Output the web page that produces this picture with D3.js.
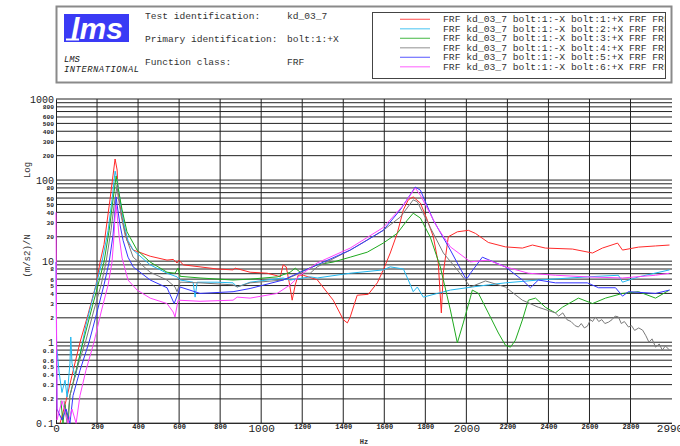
<!DOCTYPE html>
<html lang="en">
<head>
<meta charset="utf-8">
<title>FRF kd_03_7</title>
<script src="https://d3js.org/d3.v7.min.js"></script>
<style>
  body { margin: 0; background: #fff; }
  svg { display: block; }
  .mono { font-family: "Liberation Mono", "DejaVu Sans Mono", monospace; }
</style>
</head>
<body>
<div id="chart"></div>
<script>
// header texts
const headerRows = [
  ["Test identification:", "kd_03_7"],
  ["Primary identification:", "bolt:1:+X"],
  ["Function class:", "FRF"]
];
const legendNames = [
  "FRF kd_03_7 bolt:1:-X bolt:1:+X FRF FRF",
  "FRF kd_03_7 bolt:1:-X bolt:2:+X FRF FRF",
  "FRF kd_03_7 bolt:1:-X bolt:3:+X FRF FRF",
  "FRF kd_03_7 bolt:1:-X bolt:4:+X FRF FRF",
  "FRF kd_03_7 bolt:1:-X bolt:5:+X FRF FRF",
  "FRF kd_03_7 bolt:1:-X bolt:6:+X FRF FRF"
];
const seriesColors = ["#ff2a2a", "#22b8f0", "#1faa1f", "#7a7a7a", "#3535ff", "#ff40ff"];

// ticks
const xTicks = [0, 200, 400, 600, 800, 1000, 1200, 1400, 1600, 1800, 2000, 2200, 2400, 2600, 2800, 2990];
const xTickLabels = ["0", "200", "400", "600", "800", "1000", "1200", "1400", "1600", "1800", "2000", "2200", "2400", "2600", "2800", "2990"];
const xMajor = [0, 1000, 2000, 2990];
const yGrid = [0.1, 0.2, 0.3, 0.4, 0.5, 0.6, 0.7, 0.8, 0.9,
  1, 2, 3, 4, 5, 6, 7, 8, 9,
  10, 20, 30, 40, 50, 60, 70, 80, 90,
  100, 200, 300, 400, 500, 600, 700, 800, 900, 1000];
const yTicks = [0.1, 0.2, 0.3, 0.4, 0.5, 0.6, 0.8, 1, 2, 3, 4, 5, 6, 8,
  10, 20, 30, 40, 50, 60, 80, 100, 200, 300, 400, 500, 600, 800, 1000];
const yTickLabels = ["0.1", "0.2", "0.3", "0.4", "0.5", "0.6", "0.8", "1", "2", "3", "4", "5", "6", "8",
  "10", "20", "30", "40", "50", "60", "80", "100", "200", "300", "400", "500", "600", "800", "1000"];
const yMajor = [0.1, 1, 10, 100, 1000];

// FRF magnitudes [Hz, (m/s2)/N]
const frf1 = [[20,0.1],[49,0.19],[78,0.39],[117,1.0],[156,2.2],[195,5.1],[215,9.8],[234,16],[263,57],[278,115],[288,182],[298,133],[302,75],[312,49],[327,29.5],[346,18],[376,13.7],[410,12.8],[459,11.5],[541,10.3],[571,10.5],[590,9.5],[600,10.3],[620,9.0],[702,8.5],[785,8.0],[863,7.8],[873,8.2],[946,7.3],[1029,7.1],[1078,6.6],[1093,6.4],[1107,9.0],[1122,8.5],[1137,5.4],[1151,3.3],[1166,5.1],[1180,6.7],[1205,6.7],[1273,5.9],[1351,3.3],[1400,1.9],[1420,1.73],[1434,2.05],[1468,3.8],[1522,3.9],[1566,5.4],[1595,7.8],[1629,12.6],[1663,22],[1693,43],[1717,57],[1741,62],[1776,52],[1810,32],[1839,20],[1863,9.5],[1878,2.3],[1888,7.3],[1912,20],[1956,23],[2010,24],[2044,22],[2107,17],[2190,15],[2273,14.5],[2322,15.8],[2385,14.5],[2517,14.1],[2615,12.6],[2663,14.5],[2737,16.7],[2761,13.7],[2839,14.9],[2922,15.4],[2990,15.8]];
const frf2 = [[5,0.8],[15,0.43],[29,0.24],[44,0.34],[54,0.21],[68,0.55],[72,1.16],[78,0.55],[93,0.37],[117,0.7],[146,1.63],[185,4.0],[224,9.75],[254,24],[273,57],[288,129],[298,100],[312,57],[332,28],[351,18],[376,13.7],[459,9.0],[541,7.1],[590,6.4],[605,5.85],[668,5.5],[678,3.6],[688,5.5],[785,5.5],[863,5.4],[883,4.8],[946,5.5],[1107,6.2],[1141,5.85],[1239,6.4],[1273,6.2],[1434,7.1],[1595,7.8],[1629,8.5],[1693,8.0],[1717,5.85],[1741,4.2],[1761,4.8],[1790,3.6],[1859,4.0],[1922,4.4],[2029,4.8],[2107,5.1],[2190,5.4],[2351,5.85],[2590,6.4],[2741,6.7],[2761,5.5],[2839,6.4],[2990,7.8]];
const frf3 = [[24,0.19],[34,0.1],[44,0.17],[59,0.1],[68,0.22],[98,0.45],[132,1.0],[166,2.16],[205,5.1],[234,9.75],[259,24],[278,57],[293,112],[302,82],[322,43],[346,23],[395,13.7],[459,9.75],[541,7.3],[580,7.1],[595,8.2],[605,6.5],[702,6.2],[863,5.85],[946,6.0],[1078,6.4],[1141,7.3],[1166,8.2],[1190,7.3],[1273,9.0],[1351,9.75],[1434,11.2],[1517,12.9],[1595,16.7],[1663,22],[1712,32],[1741,39],[1776,34],[1824,19.8],[1873,8.5],[1922,2.5],[1956,0.98],[1985,1.73],[2020,3.6],[2029,4.4],[2059,4.0],[2107,2.3],[2156,1.3],[2190,0.92],[2215,0.87],[2239,1.06],[2273,1.88],[2302,3.3],[2337,3.5],[2385,2.7],[2434,2.3],[2468,2.7],[2546,3.5],[2615,3.0],[2678,3.5],[2761,4.0],[2839,4.2],[2922,3.5],[2990,4.4]];
const frf4 = [[39,0.19],[54,0.1],[68,0.22],[107,0.52],[146,1.06],[185,2.5],[220,5.1],[244,9.75],[268,24],[283,49],[298,87],[302,65],[317,37],[337,21],[376,11.2],[459,7.3],[541,5.85],[580,4.8],[590,4.2],[605,5.5],[702,5.4],[863,5.1],[883,4.8],[946,5.4],[1107,5.85],[1190,7.1],[1239,7.1],[1273,8.5],[1434,13.7],[1595,24],[1678,35],[1741,57],[1761,54],[1824,26],[1888,12.6],[1956,7.8],[2020,4.8],[2093,5.7],[2190,4.8],[2273,3.3],[2351,2.7],[2434,2.3],[2450,2.1],[2470,2.3],[2490,1.9],[2510,1.8],[2530,1.6],[2546,1.54],[2560,1.7],[2575,1.5],[2590,1.58],[2605,1.9],[2615,1.8],[2629,2.05],[2645,1.8],[2660,1.9],[2675,1.7],[2693,1.77],[2710,1.9],[2725,2.1],[2741,2.05],[2755,1.7],[2770,1.8],[2790,1.54],[2805,1.6],[2820,1.4],[2840,1.5],[2859,1.41],[2875,1.2],[2890,1.0],[2905,1.1],[2922,0.87],[2940,0.95],[2955,0.8],[2970,0.9],[2990,0.8]];
const frf5 = [[0,9.75],[5,0.15],[29,0.11],[49,0.15],[68,0.1],[83,0.22],[117,0.45],[161,1.0],[200,2.36],[234,5.1],[259,9.75],[278,21],[288,43],[293,62],[298,49],[312,28],[327,18],[351,11.2],[376,8.5],[459,5.85],[541,4.7],[576,3.0],[595,4.0],[605,4.8],[702,4.0],[863,4.2],[946,4.6],[1107,5.85],[1190,7.3],[1273,9.0],[1434,13.7],[1498,17],[1595,24],[1678,43],[1751,82],[1776,75],[1839,32],[1922,13.7],[1995,6.2],[2005,6.2],[2020,7.1],[2078,11.2],[2190,8.5],[2273,5.85],[2312,4.7],[2351,5.85],[2434,5.4],[2590,5.4],[2644,4.7],[2727,4.7],[2761,3.7],[2790,4.2],[2922,4.0],[2990,4.4]];
const frf6 = [[0,40],[5,0.11],[29,0.19],[59,0.1],[78,0.15],[98,0.1],[117,0.22],[146,0.45],[185,1.0],[220,2.36],[254,5.1],[273,9.75],[283,21],[288,37],[293,49],[298,37],[307,21],[322,10.9],[351,5.85],[395,4.4],[459,3.5],[541,3.0],[571,2.36],[580,2.05],[595,3.3],[702,3.2],[863,3.3],[883,3.6],[946,3.5],[1078,4.0],[1141,5.1],[1190,6.7],[1273,9.5],[1434,14.5],[1595,26],[1693,49],[1751,80],[1776,65],[1859,26],[1922,15],[2020,9.8],[2107,10.3],[2190,8.5],[2302,7.1],[2434,6.7],[2590,6.4],[2761,6.2],[2922,6.7],[2990,7.1]];
const series = [frf1, frf2, frf3, frf4, frf5, frf6];

const width = 680, height = 446;
const svg = d3.select("#chart").append("svg")
  .attr("width", width).attr("height", height);

// ---- header block ----
svg.append("rect")
  .attr("x", 56.5).attr("y", 6.5).attr("width", 615).attr("height", 76)
  .attr("fill", "none").attr("stroke", "#8a8a8a").attr("stroke-width", 2);

// logo
svg.append("rect")
  .attr("x", 64).attr("y", 14).attr("width", 65).attr("height", 28)
  .attr("fill", "#3a3af5");
svg.append("text")
  .attr("x", 71).attr("y", 39)
  .attr("fill", "#fff")
  .attr("font-family", "Liberation Sans, Arial, sans-serif")
  .attr("font-style", "italic").attr("font-weight", "bold")
  .attr("font-size", 30)
  .attr("textLength", 52)
  .text("lms");
svg.append("line")
  .attr("x1", 66).attr("x2", 79).attr("y1", 39.5).attr("y2", 39.5)
  .attr("stroke", "#fff").attr("stroke-width", 2);

svg.append("text").attr("class", "mono")
  .attr("x", 64).attr("y", 62)
  .attr("font-size", 8.8).attr("font-style", "italic").attr("fill", "#222")
  .text("LMS");
svg.append("text").attr("class", "mono")
  .attr("x", 64).attr("y", 72)
  .attr("font-size", 8.8).attr("font-style", "italic").attr("fill", "#222")
  .attr("textLength", 75)
  .text("INTERNATIONAL");

headerRows.forEach((r, i) => {
  const yy = 19 + i * 23;
  svg.append("text").attr("class", "mono")
    .attr("x", 145).attr("y", yy)
    .attr("font-size", 9.6).attr("fill", "#333")
    .text(r[0]);
  svg.append("text").attr("class", "mono")
    .attr("x", 287).attr("y", yy)
    .attr("font-size", 9.6).attr("fill", "#333")
    .text(r[1]);
});

// legend box
svg.append("rect")
  .attr("x", 372.5).attr("y", 12.5).attr("width", 293).attr("height", 66)
  .attr("fill", "#fff").attr("stroke", "#444").attr("stroke-width", 1);
svg.append("clipPath").attr("id", "legclip")
  .append("rect").attr("x", 373).attr("y", 13).attr("width", 292).attr("height", 65);

const leg = svg.append("g").attr("clip-path", "url(#legclip)");
legendNames.forEach((name, i) => {
  const yy = 19.3 + i * 9.5;
  leg.append("line")
    .attr("x1", 400).attr("x2", 430).attr("y1", yy).attr("y2", yy)
    .attr("stroke", seriesColors[i]).attr("stroke-opacity", 0.7).attr("stroke-width", 1.2);
  leg.append("text").attr("class", "mono")
    .attr("x", 443).attr("y", yy + 3)
    .attr("font-size", 9.7).attr("fill", "#333")
    .text(name);
});

// ---- plot ----
const x = d3.scaleLinear().domain([0, 2990]).range([56, 669.5]);
const y = d3.scaleLog().domain([0.1, 1000]).range([423.3, 99]);

// grid
const grid = svg.append("g");
grid.selectAll("line.h").data(yGrid).enter().append("line")
  .attr("x1", 56).attr("x2", 672)
  .attr("y1", d => y(d)).attr("y2", d => y(d))
  .attr("stroke", "#222").attr("stroke-width", 1);
grid.selectAll("line.v").data(xTicks.filter(d => d > 0 && d < 2990)).enter().append("line")
  .attr("x1", d => x(d)).attr("x2", d => x(d))
  .attr("y1", 99).attr("y2", 423.3)
  .attr("stroke", "#222").attr("stroke-width", 1);

// axes
const yAxis = svg.append("g")
  .attr("transform", "translate(56,0)")
  .call(d3.axisLeft(y).tickValues(yTicks).tickSize(0).tickPadding(2)
    .tickFormat((d, i) => yTickLabels[i]));
yAxis.select(".domain").attr("stroke", "#222");
yAxis.selectAll("text")
  .attr("class", "mono")
  .attr("fill", "#222")
  .attr("font-size", d => yMajor.includes(d) ? 10 : 6.2)
  .attr("font-weight", d => yMajor.includes(d) ? "normal" : "bold");

const xAxis = svg.append("g")
  .attr("transform", "translate(0,423.3)")
  .call(d3.axisBottom(x).tickValues(xTicks).tickSize(0).tickPadding(1)
    .tickFormat((d, i) => xTickLabels[i]));
xAxis.select(".domain").attr("stroke", "#222").attr("d", "M56,0H672");
xAxis.selectAll("text")
  .attr("class", "mono")
  .attr("fill", "#222")
  .attr("font-size", d => xMajor.includes(d) ? 11 : 7)
  .attr("font-weight", d => xMajor.includes(d) ? "normal" : "bold");

// axis titles
svg.append("text").attr("class", "mono")
  .attr("transform", "translate(30,170) rotate(-90)")
  .attr("text-anchor", "middle")
  .attr("font-size", 9).attr("fill", "#333")
  .text("Log");
svg.append("text").attr("class", "mono")
  .attr("transform", "translate(30,256) rotate(-90)")
  .attr("text-anchor", "middle")
  .attr("font-size", 9).attr("fill", "#333")
  .text("(m/s2)/N");
svg.append("text").attr("class", "mono")
  .attr("x", 364).attr("y", 444)
  .attr("text-anchor", "middle")
  .attr("font-size", 7).attr("font-weight", "bold").attr("fill", "#333")
  .text("Hz");

// curves
svg.append("clipPath").attr("id", "plotclip")
  .append("rect").attr("x", 55).attr("y", 99).attr("width", 618).attr("height", 325);

const line = d3.line()
  .x(d => x(d[0]))
  .y(d => y(Math.max(d[1], 0.1)));

svg.append("g").attr("clip-path", "url(#plotclip)")
  .selectAll("path").data(series).enter().append("path")
  .attr("d", line)
  .attr("fill", "none")
  .attr("stroke", (d, i) => seriesColors[i])
  .attr("stroke-width", 1);
</script>
</body>
</html>
